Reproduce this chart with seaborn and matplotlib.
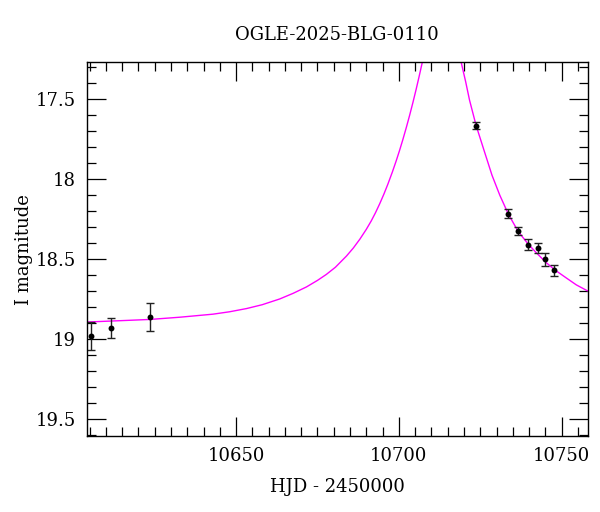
import matplotlib
matplotlib.use('Agg')
import matplotlib.pyplot as plt
import seaborn as sns
import pandas as pd
from matplotlib.ticker import MultipleLocator

# OGLE photometry (HJD - 2450000, I mag, error)
hjd = [10605.5, 10611.5, 10623.4, 10723.6, 10733.6, 10736.6,
       10739.7, 10742.6, 10744.8, 10747.8]
mag = [18.98, 18.93, 18.86, 17.665, 18.215, 18.325,
       18.41, 18.43, 18.50, 18.57]
err = [0.085, 0.06, 0.088, 0.02, 0.03, 0.025,
       0.035, 0.034, 0.042, 0.034]

# model curve (peak is off the top of the axes)
model_t = [10604.2, 10614.0, 10623.5, 10632.7, 10642.9, 10648.0, 10653.2,
           10658.0, 10663.4, 10667.5, 10671.6, 10675.0, 10677.7, 10680.5,
           10683.9, 10686.0, 10688.0, 10690.0, 10691.5, 10692.8, 10694.1,
           10695.4, 10696.6, 10698.0, 10699.2, 10700.2, 10701.2, 10702.3,
           10703.3, 10704.3, 10705.3, 10706.2, 10707.2, 10709.0, 10711.0,
           10713.0, 10715.0, 10717.0, 10719.1, 10720.5, 10721.7, 10723.7,
           10726.0, 10728.6, 10731.0, 10733.6, 10736.6, 10739.5, 10742.0,
           10745.2, 10748.0, 10751.3, 10754.5, 10758.0]
model_mag = [18.892, 18.884, 18.876, 18.862, 18.843, 18.828, 18.808,
             18.784, 18.748, 18.713, 18.673, 18.632, 18.595, 18.55,
             18.48, 18.43, 18.375, 18.313, 18.261, 18.21, 18.154,
             18.093, 18.032, 17.955, 17.884, 17.821, 17.754, 17.676,
             17.601, 17.522, 17.439, 17.36, 17.269, 17.09, 16.93,
             16.85, 16.93, 17.09, 17.267, 17.39, 17.506, 17.663,
             17.81, 17.975, 18.10, 18.217, 18.325, 18.40, 18.455,
             18.52, 18.568, 18.615, 18.66, 18.698]

sns.set_style('ticks')
plt.rcParams['font.family'] = ['DejaVu Serif']
plt.rcParams['text.color'] = 'black'
plt.rcParams['axes.labelcolor'] = 'black'
plt.rcParams['xtick.color'] = 'black'
plt.rcParams['ytick.color'] = 'black'

fig = plt.figure(figsize=(6, 5.12), dpi=100)
ax = fig.add_axes([0.145, 0.1484, 0.8345, 0.7299])

df_model = pd.DataFrame({'t': model_t, 'm': model_mag})
sns.lineplot(data=df_model, x='t', y='m', sort=False, estimator=None,
             color='#ff00ff', lw=1, ax=ax)

ax.errorbar(hjd, mag, yerr=err, fmt='none', ecolor='#222222',
            elinewidth=1, capsize=3, capthick=1)
df = pd.DataFrame({'t': hjd, 'm': mag})
sns.scatterplot(data=df, x='t', y='m', color='black', s=18,
                edgecolor='black', linewidth=0, ax=ax, zorder=3)

ax.set_xlim(10604.2, 10758.0)
ax.set_ylim(19.604, 17.27)

ax.xaxis.set_major_locator(MultipleLocator(50))
ax.xaxis.set_minor_locator(MultipleLocator(5))
ax.yaxis.set_major_locator(MultipleLocator(0.5))
ax.yaxis.set_minor_locator(MultipleLocator(0.1))
ax.yaxis.set_major_formatter(plt.FuncFormatter(lambda v, p: f'{v:g}'))

ax.tick_params(which='both', direction='in', top=True, right=True,
               labelsize=13, width=0.9)
ax.tick_params(which='major', length=13.5, pad=8)
ax.tick_params(which='minor', length=6.5)
for s in ax.spines.values():
    s.set_linewidth(1)
    s.set_color('black')

ax.set_xlabel('HJD - 2450000', fontsize=13, labelpad=9)
ax.set_ylabel('I magnitude', fontsize=13, labelpad=2)
ax.set_title('OGLE-2025-BLG-0110', fontsize=13, pad=16)

plt.savefig('out.png', dpi=100)
